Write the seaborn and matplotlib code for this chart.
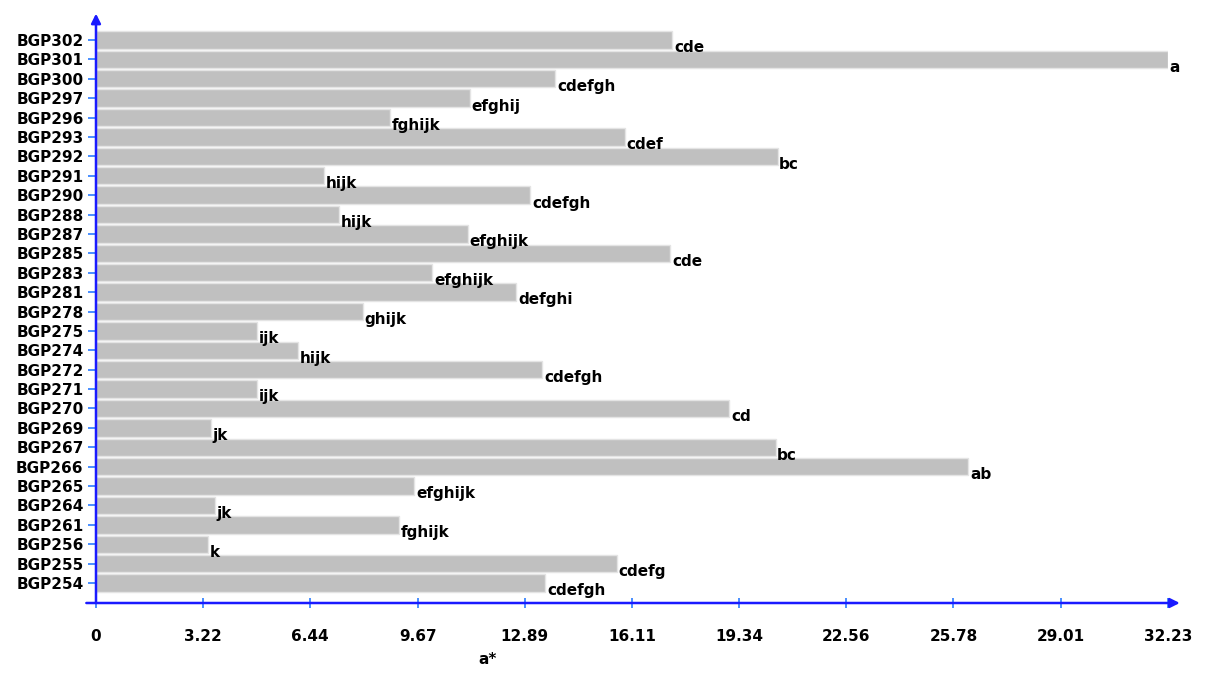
import matplotlib
matplotlib.use('Agg')
import matplotlib.pyplot as plt
import seaborn as sns

# data, top to bottom as in the picture
accessions = ['BGP302', 'BGP301', 'BGP300', 'BGP297', 'BGP296', 'BGP293', 'BGP292',
              'BGP291', 'BGP290', 'BGP288', 'BGP287', 'BGP285', 'BGP283', 'BGP281',
              'BGP278', 'BGP275', 'BGP274', 'BGP272', 'BGP271', 'BGP270', 'BGP269',
              'BGP267', 'BGP266', 'BGP265', 'BGP264', 'BGP261', 'BGP256', 'BGP255',
              'BGP254']
a_star = [17.33, 32.23, 13.81, 11.25, 8.84, 15.91, 20.49, 6.86, 13.06, 7.31,
          11.19, 17.27, 10.11, 12.64, 8.03, 4.84, 6.08, 13.42, 4.84, 19.04,
          3.46, 20.43, 26.23, 9.57, 3.58, 9.12, 3.37, 15.67, 13.51]
groups = ['cde', 'a', 'cdefgh', 'efghij', 'fghijk', 'cdef', 'bc', 'hijk', 'cdefgh',
          'hijk', 'efghijk', 'cde', 'efghijk', 'defghi', 'ghijk', 'ijk', 'hijk',
          'cdefgh', 'ijk', 'cd', 'jk', 'bc', 'ab', 'efghijk', 'jk', 'fghijk', 'k',
          'cdefg', 'cdefgh']
xticks = [0, 3.22, 6.44, 9.67, 12.89, 16.11, 19.34, 22.56, 25.78, 29.01, 32.23]
xtick_labels = ['0', '3.22', '6.44', '9.67', '12.89', '16.11', '19.34', '22.56',
                '25.78', '29.01', '32.23']

sns.set_style('white')
plt.rcParams['font.family'] = ['DejaVu Sans']

axis_blue = '#1a1aff'
tick_blue = '#3a86ff'

fig = plt.figure(figsize=(12.1, 6.73), dpi=100)
ax = fig.add_axes([96 / 1210, 70 / 673, 1072 / 1210, 583 / 673])

sns.barplot(x=a_star, y=accessions, orient='h', color='#c0c0c0', saturation=1,
            width=0.9, edgecolor='#e4e4e4', linewidth=1, ax=ax)

# letter groups at the end of each bar
for i, (v, g) in enumerate(zip(a_star, groups)):
    ax.text(v + 0.05, i + 0.02, g, ha='left', va='top', fontsize=11,
            fontweight='bold', color='black')

ax.set_xlim(0, 32.23)
ax.set_ylim(29.03, -1.03)
ax.set_xticks(xticks)
ax.set_xticklabels(xtick_labels, fontsize=11, fontweight='bold', color='black')
for lbl in ax.get_yticklabels():
    lbl.set_fontsize(11)
    lbl.set_fontweight('bold')
    lbl.set_color('black')
ax.set_xlabel('')
ax.set_ylabel('')

ax.tick_params(axis='y', direction='inout', length=12, width=1.3, color=tick_blue,
               left=True, pad=3)
ax.tick_params(axis='x', direction='inout', length=7, width=1.3, color=tick_blue,
               bottom=True, pad=15)

for s in ax.spines.values():
    s.set_visible(False)

# blue axes with arrow heads
ax.annotate('', xy=(0, 1.011), xytext=(0, 0), xycoords='axes fraction',
            arrowprops=dict(arrowstyle='-|>', color=axis_blue, lw=1.8,
                            mutation_scale=14, shrinkA=0, shrinkB=0))
ax.annotate('', xy=(1.011, 0), xytext=(-0.009, 0), xycoords='axes fraction',
            arrowprops=dict(arrowstyle='-|>', color=axis_blue, lw=1.8,
                            mutation_scale=14, shrinkA=0, shrinkB=0))

fig.text(488 / 1210, 1 - 660 / 673, 'a*', ha='center', va='center', fontsize=11,
         fontweight='bold', color='black')

fig.savefig('out.png', dpi=100)
